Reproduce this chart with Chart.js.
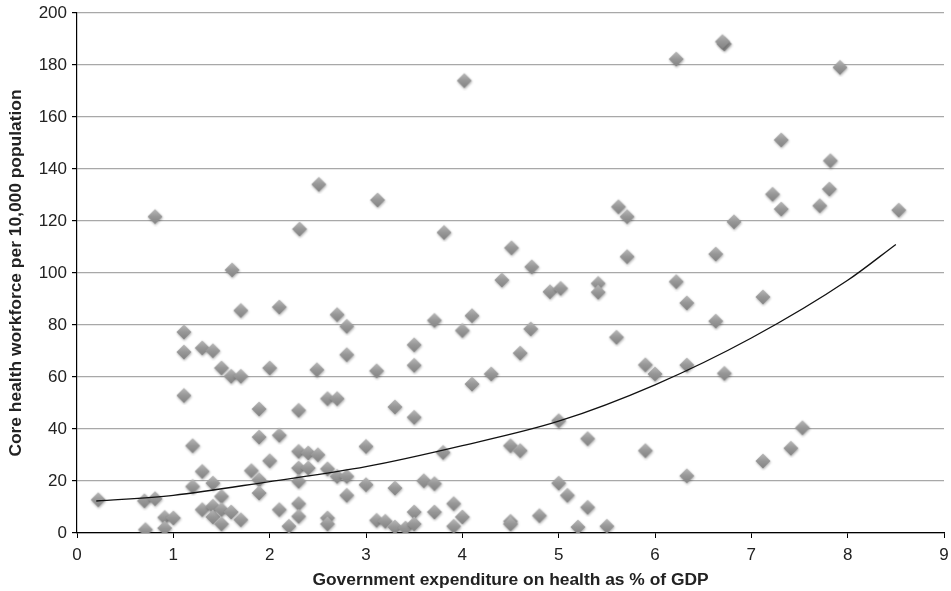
<!DOCTYPE html>
<html>
<head>
<meta charset="utf-8">
<script src="https://cdn.jsdelivr.net/npm/chart.js@4/dist/chart.umd.min.js"></script>
<style>
  html,body{margin:0;padding:0;background:#fff;}
  #wrap{width:951px;height:591px;position:relative;}
</style>
</head>
<body>
<div id="wrap"><canvas id="c" width="951" height="591"></canvas></div>
<script>
// scatter values (x = % of GDP, y = workforce per 10,000)
const spendX = [0.22,0.71,0.70,0.81,0.91,0.91,1.00,1.11,1.11,1.11,1.20,1.20,1.30,1.30,1.30,1.41,1.41,1.41,1.41,1.50,1.50,1.50,1.50,1.60,1.60,1.70,1.70,1.70,1.81,1.89,1.89,1.89,1.89,2.00,2.00,2.10,2.10,2.10,2.20,2.30,2.30,2.30,2.30,2.30,2.30,2.40,2.40,2.50,2.49,2.60,2.60,2.60,2.60,2.70,2.70,2.70,2.80,2.80,2.80,2.80,3.00,3.00,0.81,1.61,2.31,2.51,4.02,3.12,3.81,4.51,4.72,4.41,4.91,5.02,5.41,5.41,5.62,5.71,5.71,3.11,3.11,3.20,3.30,3.41,3.30,3.30,3.50,3.50,3.50,3.50,3.50,3.60,3.71,3.71,3.71,3.80,3.91,3.91,4.00,4.00,4.10,4.10,4.30,4.50,4.50,4.50,4.60,4.60,4.71,4.80,5.00,5.00,5.09,5.20,5.30,5.30,5.50,5.60,5.90,5.90,6.00,6.22,6.72,6.70,7.92,7.31,7.82,7.22,7.81,7.31,7.71,8.53,6.82,6.63,6.22,6.33,7.12,6.63,6.33,6.72,7.53,7.41,7.12,6.33];
const workforceY = [12.8,1.3,12.4,13.2,6.0,1.9,5.8,77.3,69.6,52.9,33.6,17.9,23.7,9.0,71.2,70.1,19.2,10.3,6.2,63.5,14.1,9.0,3.5,60.3,8.1,60.3,85.6,5.1,24.0,47.7,36.9,20.5,15.4,63.5,27.8,86.9,37.6,9.0,2.6,47.2,31.4,25.0,19.9,11.3,6.4,30.8,25.0,30.1,62.8,51.7,24.7,5.8,3.5,51.7,84.0,21.8,79.5,68.6,21.8,14.5,33.3,18.6,121.7,101.2,116.9,134.1,174.0,128.1,115.6,109.7,102.4,97.3,92.8,94.1,96.0,92.6,125.5,121.7,106.3,62.4,4.9,4.5,2.3,1.9,17.3,48.5,72.4,64.5,44.5,8.1,3.5,20.1,19.0,8.1,81.8,31.0,11.3,2.6,77.9,6.2,83.6,57.3,61.2,33.6,4.5,3.5,31.7,69.2,78.5,6.7,43.2,19.2,14.5,2.3,36.3,9.9,2.6,75.3,64.7,31.7,61.2,182.3,188.1,189.0,179.1,151.2,143.2,130.3,132.3,124.6,125.9,124.2,119.7,107.3,96.7,88.5,90.8,81.5,64.6,61.4,40.5,32.6,27.7,22.0];

// trend line
const trendX = [0.2,1,2,3,4,5,6,7,8,8.5];
const trendY = [12.3,14.5,19.8,25.5,33.6,43.0,57.0,75.0,97.2,111.0];

const xTitle = 'Government expenditure on health as % of GDP';
const yTitle = 'Core health workforce per 10,000 population';

// shaded diamond marker
function diamond(){
  const s = 20, c = document.createElement('canvas');
  c.width = s; c.height = s;
  const g = c.getContext('2d');
  const h = 7.5, cx = s/2, cy = s/2;
  g.save();
  g.shadowColor = 'rgba(0,0,0,0.3)';
  g.shadowBlur = 2.5; g.shadowOffsetX = 0.5; g.shadowOffsetY = 1.2;
  g.beginPath();
  g.moveTo(cx, cy-h); g.lineTo(cx+h, cy); g.lineTo(cx, cy+h); g.lineTo(cx-h, cy); g.closePath();
  const gr = g.createLinearGradient(0, cy-h, 0, cy+h);
  gr.addColorStop(0, '#b8b8b8'); gr.addColorStop(0.5, '#979797'); gr.addColorStop(1, '#828282');
  g.fillStyle = gr; g.fill();
  g.restore();
  return c;
}

const font = {family: "'Liberation Sans', Arial, sans-serif", size: 17};
const titleFont = {family: "'Liberation Sans', Arial, sans-serif", size: 17.4, weight: 'bold'};

// pin the plot area to where the reference has it
const pinArea = {
  id: 'pinArea',
  afterLayout(chart){
    const a = chart.chartArea, x = chart.scales.x;
    const right = 944;
    if (a.right !== right){
      a.right = right; a.width = a.right - a.left;
      x.right = right; x.width = x.right - x.left;
      x.configure();
    }
  }
};

new Chart(document.getElementById('c'), {
  type: 'scatter',
  data: {
    datasets: [
      {
        label: 'countries',
        data: spendX.map((x,i) => ({x, y: workforceY[i]})),
        pointStyle: diamond(),
        pointRadius: 8,
        pointHoverRadius: 8,
        order: 2
      },
      {
        type: 'line',
        label: 'trend',
        data: trendX.map((x,i) => ({x, y: trendY[i]})),
        borderColor: '#111',
        borderWidth: 1.3,
        pointRadius: 0,
        fill: false,
        cubicInterpolationMode: 'monotone',
        order: 1
      }
    ]
  },
  plugins: [pinArea],
  options: {
    responsive: false,
    animation: false,
    layout: {padding: {left: 0, right: 4, top: 13, bottom: 0}},
    plugins: {legend: {display: false}, tooltip: {enabled: false}},
    scales: {
      x: {
        type: 'linear', min: 0, max: 9,
        afterFit: s => { s.height = 58; s.paddingLeft = 0; s.paddingRight = 0; },
        ticks: {stepSize: 1, color: '#222', font, padding: 7},
        grid: {color: 'rgba(0,0,0,0)', tickColor: '#000', tickLength: 5, drawOnChartArea: false},
        border: {color: '#000', width: 1.2},
        title: {display: true, text: xTitle, color: '#222', font: titleFont, padding: {top: 0, bottom: 0}}
      },
      y: {
        min: 0, max: 200,
        afterFit: s => { s.width = 77; s.paddingTop = 0; s.paddingBottom = 0; },
        ticks: {stepSize: 20, color: '#222', font, padding: 5},
        grid: {color: '#a8a8a8', lineWidth: 1.2, tickColor: '#000', tickLength: 5},
        border: {color: '#000', width: 1.2},
        title: {display: true, text: yTitle, color: '#222', font: titleFont, padding: {top: 6, bottom: 0}}
      }
    }
  }
});
</script>
</body>
</html>
